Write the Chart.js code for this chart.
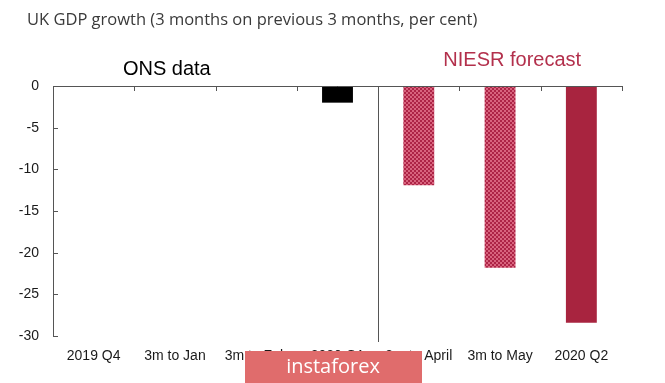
<!DOCTYPE html>
<html>
<head>
<meta charset="utf-8">
<script src="https://cdn.jsdelivr.net/npm/chart.js@4.4.1/dist/chart.umd.min.js"></script>
<style>
  html, body { margin: 0; padding: 0; background: #fff; }
</style>
</head>
<body>
<canvas id="gdp" width="665" height="383"></canvas>
<script>
// data
const categories = ["2019 Q4", "3m to Jan", "3m to Feb", "2020 Q1", "3m to April", "3m to May", "2020 Q2"];
const growth = [null, null, null, -2.0, -11.9, -21.8, -28.4];
const source = ["ONS", "ONS", "ONS", "ONS", "NIESR", "NIESR", "NIESR"];
const yTicks = [0, -5, -10, -15, -20, -25, -30];

const labelFont = "'Liberation Sans', Arial, sans-serif";

// checker pattern for the monthly forecast bars
function dotPattern() {
  const p = document.createElement("canvas");
  p.width = 4; p.height = 4;
  const c = p.getContext("2d");
  c.fillStyle = "#d8647e";
  c.fillRect(0, 0, 4, 4);
  c.fillStyle = "#ad2446";
  c.fillRect(0, 0, 2, 2);
  c.fillRect(2, 2, 2, 2);
  return c.createPattern(p, "repeat");
}
const dots = dotPattern();

const barColors = categories.map((name, i) => {
  if (source[i] === "ONS") return "#000000";
  return name.startsWith("3m") ? dots : "#a8243f";
});

// axis lines, inside ticks, divider, texts and watermark
const decorations = {
  id: "decorations",
  afterDatasetsDraw(chart) {
    const { ctx, chartArea, scales } = chart;
    const x = scales.x, y = scales.y;
    const zero = y.getPixelForValue(0);
    const step = x.getPixelForValue(1) - x.getPixelForValue(0);
    ctx.save();
    ctx.strokeStyle = "#555";
    ctx.lineWidth = 1;
    // zero line
    ctx.beginPath();
    ctx.moveTo(chartArea.left, Math.round(zero) + 0.5);
    ctx.lineTo(chartArea.right, Math.round(zero) + 0.5);
    ctx.stroke();
    // category tick marks on the zero line
    for (let i = 0; i <= categories.length; i++) {
      const px = Math.round(x.getPixelForValue(i) - step / 2) + 0.5;
      ctx.beginPath();
      ctx.moveTo(px, zero);
      ctx.lineTo(px, zero + 5);
      ctx.stroke();
    }
    // value tick marks pointing in
    yTicks.forEach(v => {
      const py = Math.round(y.getPixelForValue(v)) + 0.5;
      ctx.beginPath();
      ctx.moveTo(chartArea.left, py);
      ctx.lineTo(chartArea.left + 5, py);
      ctx.stroke();
    });
    // divider between ONS data and forecast
    const split = source.indexOf("NIESR");
    const dx = Math.round(x.getPixelForValue(split) - step / 2) + 0.5;
    ctx.beginPath();
    ctx.moveTo(dx, zero);
    ctx.lineTo(dx, chartArea.bottom + 6);
    ctx.stroke();

    // title
    ctx.fillStyle = "#3a3a3a";
    ctx.font = "16.5px 'Open Sans', sans-serif";
    ctx.textAlign = "left";
    ctx.textBaseline = "middle";
    ctx.fillText("UK GDP growth (3 months on previous 3 months, per cent)", 27, 20);

    // section labels
    ctx.font = "20px " + labelFont;
    ctx.textAlign = "center";
    ctx.fillStyle = "#000";
    ctx.fillText("ONS data", x.getPixelForValue(0.9), 69);
    ctx.fillStyle = "#b3304c";
    ctx.fillText("NIESR forecast", x.getPixelForValue(5.15), 60);

    // watermark
    ctx.fillStyle = "#e06c6c";
    ctx.fillRect(245, 351, 177, 32);
    ctx.fillStyle = "#fff";
    ctx.font = "20px 'Open Sans', sans-serif";
    ctx.fillText("instaforex", 333, 367);
    ctx.restore();
  }
};

new Chart(document.getElementById("gdp"), {
  type: "bar",
  data: {
    labels: categories,
    datasets: [{
      data: growth,
      backgroundColor: barColors,
      borderWidth: 0,
      barPercentage: 0.38,
      categoryPercentage: 1
    }]
  },
  options: {
    responsive: false,
    animation: false,
    layout: { padding: { top: 86, right: 43, left: 0, bottom: 0 } },
    plugins: { legend: { display: false }, tooltip: { enabled: false } },
    scales: {
      x: {
        grid: { display: false, drawTicks: false },
        border: { display: false },
        ticks: { color: "#1a1a1a", font: { family: labelFont, size: 14 }, padding: 12, maxRotation: 0, autoSkip: false },
        afterFit: s => { s.height = 47; }
      },
      y: {
        min: -30,
        max: 0,
        grid: { display: false, drawTicks: false },
        border: { display: true, color: "#555", width: 1 },
        ticks: { stepSize: 5, color: "#1a1a1a", font: { family: labelFont, size: 14 }, padding: 14 },
        afterFit: s => { s.width = 53; }
      }
    }
  },
  plugins: [decorations]
});
</script>
</body>
</html>
